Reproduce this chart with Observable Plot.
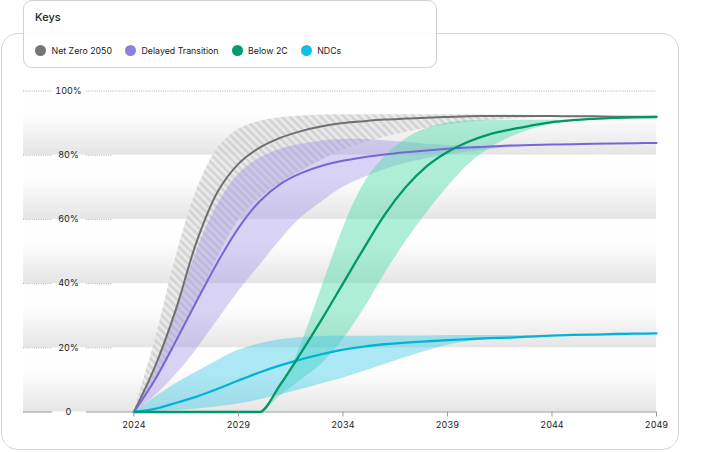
<!DOCTYPE html>
<html>
<head>
<meta charset="utf-8">
<script src="https://cdn.jsdelivr.net/npm/d3@7"></script>
<script src="https://cdn.jsdelivr.net/npm/@observablehq/plot@0.6"></script>
<style>
  html, body { margin: 0; padding: 0; background: #fff; }
  #wrap { position: relative; width: 701px; height: 452px; overflow: hidden; font-family: Inter, "Noto Sans", sans-serif; }
  #chart { position: absolute; left: 0; top: 0; }
  #card { position: absolute; left: 1px; top: 33px; width: 678px; height: 417px; box-sizing: border-box;
          border: 1px solid #d6d6d6; border-radius: 17px; pointer-events: none; }
  #legend { position: absolute; left: 23px; top: 0px; width: 414px; height: 68px; box-sizing: border-box;
            border: 1px solid #d0d0d0; border-radius: 9px; background: rgba(255,255,255,0.88); }
  #legend .title { position: absolute; left: 11px; top: 9px; font-size: 11px; font-weight: 500; color: #1e1e1e; }
  #legend .items { position: absolute; left: 11px; top: 43.5px; display: flex; align-items: center; gap: 13px; }
  #legend .item { display: flex; align-items: center; gap: 5.5px; font-size: 8.8px; color: #222; }
  #legend .dot { width: 11px; height: 11px; border-radius: 50%; display: inline-block; }
</style>
</head>
<body>
<div id="wrap">
  <div id="chart"></div>
  <div id="card"></div>
  <div id="legend">
    <div class="title">Keys</div>
    <div class="items" id="items"></div>
  </div>
</div>
<script>
// ---- data ----
const years = [2024,2025,2026,2027,2028,2029,2030,2031,2032,2033,2034,2035,2036,2037,2038,2039,2040,2041,2042,2043,2044,2045,2046,2047,2048,2049];

const netZero     = [0,14,31.75,53,68.5,77.3,82.3,85.4,87.5,89,90,90.6,91.1,91.4,91.7,91.9,92.1,92.2,92.2,92.2,92.2,92.1,92.1,92,92,92];
const netZeroHigh = [0,22,48,69,82,88,90.5,91.7,92.2,92.5,92.6,92.6,92.6,92.6,92.6,92.6,92.6,92.5,92.5,92.4,92.4,92.3,92.2,92.1,92.05,92];
const netZeroLow  = [0,9,20.5,34,48,59.5,66.5,71.3,75,78.5,81.5,83.8,85.6,87.1,88.4,89.4,90.2,90.8,91.3,91.6,91.8,91.9,92,92,92,92];

const delayed     = [0,10,22,34.5,46.6,57.3,65.5,71,74.4,76.7,78.25,79.35,80.2,80.9,81.5,82,82.4,82.7,83,83.15,83.3,83.45,83.55,83.65,83.75,83.8];
const delayedHigh = [0,12.5,31,50,64.5,74,79,81.8,83.4,84.4,84.9,84.9,84.5,84,83.4,83,82.7,82.8,83,83.15,83.3,83.45,83.55,83.65,83.75,83.8];
const delayedLow  = [0,5,11.5,19.5,28.5,37.5,45.5,53.5,60.5,65.5,70,73,75.5,77.4,78.9,80.1,81,81.8,82.4,82.9,83.2,83.4,83.5,83.6,83.7,83.8];

const below2C     = [0,0,0,0,0,0,0,8.5,18.5,29,40,51,61.5,70,76.5,81,84.2,86.5,88,89.2,90.3,90.9,91.3,91.6,91.8,91.9];
const below2CHigh = [0,0,0,0,0,0,0,7.5,21,39,57,71,79.5,85,88.3,90,90.7,90.9,90.9,90.9,90.9,91,91.3,91.6,91.8,91.9];
const below2CLow  = [0,0,0,0,0,0,0,5,10,15,22.5,32,43,53,62,70,77,82,85.5,88,89.6,90.6,91.2,91.6,91.8,91.9];

const ndcs        = [0,1,2.8,4.8,7.2,9.8,12.3,14.5,16.4,18,19.4,20.4,21.1,21.6,22,22.4,22.7,23,23.2,23.5,23.8,24,24.1,24.3,24.4,24.5];
const ndcsHigh    = [0,4.5,8.8,12.5,16,19.2,21.2,22.5,23.2,23.5,23.6,23.6,23.7,23.7,23.7,23.8,23.8,23.8,23.8,23.8,23.9,24,24.1,24.3,24.4,24.5];
const ndcsLow     = [0,0.2,0.5,0.9,1.6,2.5,3.8,5.3,7,8.8,10.6,12.6,14.8,17,19,20.8,22,22.7,23.1,23.45,23.8,24,24.1,24.3,24.4,24.5];

const seriesNames  = ["Net Zero 2050", "Delayed Transition", "Below 2C", "NDCs"];
const lineColors   = ["#6f6f6f", "#7766d8", "#00976a", "#00b4d8"];
const legendColors = ["#767676", "#8c7fe2", "#009e6f", "#0fc0e2"];

const xTicks = [2024, 2029, 2034, 2039, 2044, 2049];
const yTicks = [0, 20, 40, 60, 80, 100];
const yTickLabels = ["0", "20%", "40%", "60%", "80%", "100%"];
const bandStarts = [0, 20, 40, 60, 80];

// x scale: the domain extends left of 2024 to leave a label column inside the frame
const xDomain = [2018.72, 2049];
const labelGap = [2020.11, 2021.73];
const gutterEnd = 2022.97;

const rows = years.map((year, i) => ({
  year,
  nz: netZero[i], nzHi: netZeroHigh[i], nzLo: netZeroLow[i],
  dt: delayed[i], dtHi: delayedHigh[i], dtLo: delayedLow[i],
  b2: below2C[i], b2Hi: below2CHigh[i], b2Lo: below2CLow[i],
  nd: ndcs[i], ndHi: ndcsHigh[i], ndLo: ndcsLow[i]
}));

const defs = () => {
  const d = d3.create("svg:defs");
  const g = d.append("linearGradient").attr("id", "bandGrad")
    .attr("x1", 0).attr("y1", 0).attr("x2", 0).attr("y2", 1);
  g.append("stop").attr("offset", "0%").attr("stop-color", "#ffffff");
  g.append("stop").attr("offset", "38%").attr("stop-color", "#fefefe");
  g.append("stop").attr("offset", "100%").attr("stop-color", "#e5e5e5");
  const p = d.append("pattern").attr("id", "hatch").attr("patternUnits", "userSpaceOnUse")
    .attr("width", 5.5).attr("height", 5.5).attr("patternTransform", "rotate(-45)");
  p.append("rect").attr("width", 5.5).attr("height", 5.5).attr("fill", "#e8e8e8");
  p.append("rect").attr("width", 2.75).attr("height", 5.5).attr("fill", "#d1d1d1");
  return d.node();
};

const smooth = "catmull-rom";   // smooth S-curves
const kinked = "monotone-x";    // keeps the flat start of Below 2C flat
const midTicks = yTicks.slice(1, -1);

const chart = Plot.plot({
  width: 701,
  height: 452,
  marginTop: 90.5,
  marginBottom: 40.5,
  marginLeft: 23,
  marginRight: 45,
  style: { background: "transparent", fontFamily: "Inter, 'Noto Sans', sans-serif", fontSize: "9px", color: "#222" },
  x: { domain: xDomain },
  y: { domain: [0, 100] },
  marks: [
    defs,
    Plot.rect(bandStarts, { y1: d => d, y2: d => d + 20, fill: "url(#bandGrad)" }),
    // dotted label-column grid segments
    Plot.ruleY(yTicks.slice(1), { y: d => d, x1: xDomain[0], x2: labelGap[0], stroke: "#9a9a9a", strokeWidth: 0.8, strokeDasharray: "1,1.2" }),
    Plot.ruleY(midTicks, { y: d => d, x1: labelGap[1], x2: gutterEnd, stroke: "#9a9a9a", strokeWidth: 0.8, strokeDasharray: "1,1.2" }),
    Plot.ruleY([100], { y: d => d, x1: labelGap[1], x2: xDomain[1], stroke: "#9a9a9a", strokeWidth: 0.8, strokeDasharray: "1,1.2" }),
    // baseline
    Plot.ruleY([0], { y: d => d, x1: xDomain[0], x2: labelGap[0], stroke: "#b8b8b8", strokeWidth: 1.6 }),
    Plot.ruleY([0], { y: d => d, x1: labelGap[1], x2: xDomain[1], stroke: "#b8b8b8", strokeWidth: 1.6 }),
    // uncertainty bands
    Plot.areaY(rows, { x: "year", y1: "nzLo", y2: "nzHi", fill: "url(#hatch)", fillOpacity: 0.9, curve: smooth }),
    Plot.areaY(rows, { x: "year", y1: "dtLo", y2: "dtHi", fill: "#9a8be6", fillOpacity: 0.38, curve: smooth }),
    Plot.areaY(rows, { x: "year", y1: "b2Lo", y2: "b2Hi", fill: "#4ddba9", fillOpacity: 0.45, curve: kinked }),
    Plot.areaY(rows, { x: "year", y1: "ndLo", y2: "ndHi", fill: "#3cc8e6", fillOpacity: 0.42, curve: smooth }),
    // central lines
    Plot.lineY(rows, { x: "year", y: "nz", stroke: lineColors[0], strokeWidth: 2, curve: smooth }),
    Plot.lineY(rows, { x: "year", y: "dt", stroke: lineColors[1], strokeWidth: 2, curve: smooth }),
    Plot.lineY(rows, { x: "year", y: "nd", stroke: lineColors[3], strokeWidth: 2.3, curve: smooth }),
    Plot.lineY(rows, { x: "year", y: "b2", stroke: lineColors[2], strokeWidth: 2.3, curve: kinked }),
    // axes
    Plot.axisX({ ticks: xTicks, tickFormat: d => String(d), tickSize: 5, tickPadding: 5, stroke: "#9a9a9a", fill: "#222", label: null }),
    Plot.axisY({ ticks: yTicks, tickFormat: (d, i) => yTickLabels[i], tickSize: 0, tickPadding: 0, textAnchor: "middle", dx: 45, fill: "#222", label: null })
  ]
});
document.getElementById("chart").appendChild(chart);

// legend
const items = d3.select("#items");
seriesNames.forEach((name, i) => {
  const it = items.append("div").attr("class", "item");
  it.append("span").attr("class", "dot").style("background", legendColors[i]);
  it.append("span").text(name);
});
</script>
</body>
</html>
